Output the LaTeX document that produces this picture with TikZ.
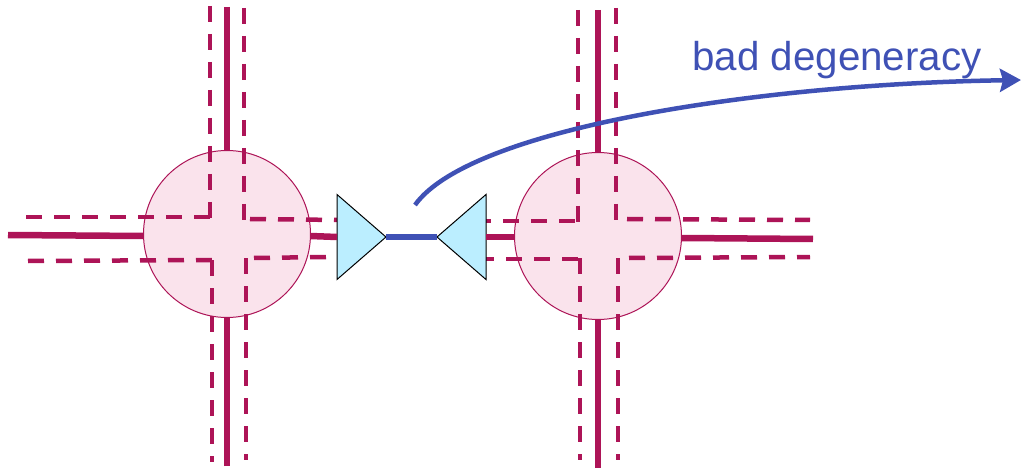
\documentclass[tikz,border=0pt]{standalone}
\usepackage{xcolor}
\usepackage{fontspec}
\setmainfont{Liberation Sans}
\usetikzlibrary{shapes.geometric, arrows.meta}
\definecolor{wirered}{RGB}{173,20,87}
\definecolor{blobpink}{RGB}{250,227,236}
\definecolor{degblue}{RGB}{63,81,181}
\definecolor{tipcyan}{RGB}{187,238,255}
\tikzset{
  wire/.style={line width=6.5pt, color=wirered},
  dashwire/.style={line width=4.5pt, color=wirered, dash pattern=on 16pt off 12pt},
  blob/.style={circle, minimum size=167pt, inner sep=0pt, outer sep=0pt, fill=blobpink,
    draw=wirered, line width=1pt},
  tipblock/.style={isosceles triangle, isosceles triangle stretches=true,
    minimum width=85pt, minimum height=49pt, inner sep=0pt, outer sep=0pt, fill=tipcyan,
    draw=black, line width=1pt},
  degwire/.style={line width=5.5pt, color=degblue},
  degarrow/.style={-{Stealth[length=21pt, width=23pt, inset=3pt]}, line width=4.5pt,
    color=degblue},
}
\begin{document}
\begin{tikzpicture}[x=1pt, y=-1pt]
  \useasboundingbox (0,0) rectangle (1021,468);

  \node[blob] (leftblob) at (227,234) {};
  \node[blob] (rightblob) at (598,236) {};

  % free ends of the legs
  \coordinate (ltop) at (227,7);
  \coordinate (lbot) at (227,466);
  \coordinate (lwest) at (8,235);
  \coordinate (rtop) at (598,10);
  \coordinate (rbot) at (598,468);
  \coordinate (reast) at (813,239);

  % dashed double lines, left blob
  \draw[dashwire] (26,217) -- (210,217);
  \draw[dashwire] (210,6) -- (210,218);
  \draw[dashwire] (28,261) -- (212,260);
  \draw[dashwire] (212,260) -- (212,462);
  \draw[dashwire] (244,8) -- (244,220);
  \draw[dashwire] (250,219) -- (340,220);
  \draw[dashwire] (246,258) -- (246,460);
  \draw[dashwire] (254,258) -- (326,257);
  % dashed double lines, right blob
  \draw[dashwire] (475,221) -- (575,221);
  \draw[dashwire] (578,10) -- (578,222);
  \draw[dashwire] (478,259) -- (578,259);
  \draw[dashwire] (580,258) -- (580,460);
  \draw[dashwire] (616,8) -- (616,220);
  \draw[dashwire] (627,219) -- (810,220);
  \draw[dashwire] (618,258) -- (618,460);
  \draw[dashwire] (629,258) -- (810,257);

  \node[tipblock, anchor=apex] (lefttip) at (386,237) {};
  \node[tipblock, shape border rotate=180, anchor=apex] (righttip) at (437,237) {};

  \draw[wire] (ltop) -- (leftblob.north);
  \draw[wire] (lbot) -- (leftblob.south);
  \draw[wire] (lwest) -- ([yshift=-2pt]leftblob.west);
  \draw[wire] ([yshift=-2pt]leftblob.east) -- (lefttip.west);
  \draw[wire] (rtop) -- (rightblob.north);
  \draw[wire] (rbot) -- (rightblob.south);
  \draw[wire] (righttip.east) -- ([yshift=-1pt]rightblob.west);
  \draw[wire] ([yshift=-2pt]rightblob.east) -- (reast);
  \draw[degwire] (lefttip.apex) -- (righttip.apex);

  \coordinate (curvestart) at (415,205);
  \coordinate (curveend) at (1021,80);
  \draw[degarrow] (curvestart) .. controls (470,128) and (760,84) .. (curveend);

  \node[anchor=base, font=\fontsize{40.3}{48}\selectfont, text=degblue, inner sep=0pt]
    (badlabel) at (837,71) {bad degeneracy};
\end{tikzpicture}
\end{document}
